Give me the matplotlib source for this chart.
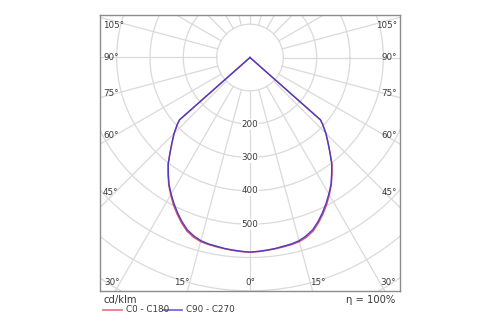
import numpy as np
import matplotlib
matplotlib.use("Agg")
import matplotlib.pyplot as plt
from matplotlib.lines import Line2D

# luminous intensity distribution, cd/klm (zero beyond the cut-off near 50 degrees)
gamma = [0, 2.5, 5, 7.5, 10, 12.5, 15, 17.5, 20, 22.5, 25, 27.5, 30, 32.5, 35,
         37.5, 40, 42.5, 45, 47.5, 48.5, 50, 60, 70, 80, 90]
c0_c180 = [584, 583, 581, 579, 577, 575, 572, 565, 554, 537, 518, 498, 476, 454, 429,
           404, 374, 347, 322, 295, 282, 0, 0, 0, 0, 0]
c90_c270 = [584, 582, 580, 578, 575, 573, 569, 561, 550, 533, 514, 494, 473, 452, 427,
            403, 373, 346, 322, 295, 282, 0, 0, 0, 0, 0]
series_names = ["C0 - C180", "C90 - C270"]
series_colors = ["#e2505e", "#4a3cc6"]

ring_values = [100, 200, 300, 400, 500, 600, 700, 800, 900, 1000]
ring_labels = [200, 300, 400, 500]
side_angles = [45, 60, 75, 90, 105]
bottom_angles = [0, 15, 30]
efficiency = "100%"

grid_col = "#dadada"
text_col = "#3a3a3a"

fig = plt.figure(figsize=(5, 3.25), dpi=100)
ax = fig.add_axes([0.2, 1 - 291 / 325, 0.6, 276 / 325])
ax.set_xlim(-450, 450)
ax.set_ylim(-700.5, 127.5)
ax.set_aspect("equal")
ax.set_xticks([])
ax.set_yticks([])
for s in ax.spines.values():
    s.set_color("#8c8c8c")
    s.set_linewidth(1.0)

# polar grid
t = np.linspace(0, 2 * np.pi, 400)
for r in ring_values:
    ax.plot(r * np.cos(t), r * np.sin(t), color=grid_col, lw=0.9, zorder=1)
for a in range(0, 360, 15):
    ar = np.radians(a)
    ax.plot([100 * np.sin(ar), 1200 * np.sin(ar)],
            [-100 * np.cos(ar), -1200 * np.cos(ar)],
            color=grid_col, lw=0.9, zorder=1)

# curves (left half = mirrored plane, right half = opposite plane)
g = np.radians(gamma)
for vals, col in zip([c0_c180, c90_c270], series_colors):
    I = np.array(vals, dtype=float)
    x = np.concatenate([-(I * np.sin(g))[::-1], (I * np.sin(g))[1:]])
    y = np.concatenate([-(I * np.cos(g))[::-1], -(I * np.cos(g))[1:]])
    ax.plot(x, y, color=col, lw=1.0, zorder=3)

fs = 6.3
for r in ring_labels:
    ax.text(0, -r, str(r), ha="center", va="center", fontsize=fs, color=text_col,
            zorder=4, bbox=dict(facecolor="white", edgecolor="none", pad=0.6))

# angle labels on the sides
xs = 405
for a in side_angles:
    yy = 0 if a == 90 else -xs / np.tan(np.radians(a))
    yy = min(yy, 97)
    ax.text(-441, yy, f"{a}°", ha="left", va="center", fontsize=fs, color=text_col, zorder=4)
    ax.text(441, yy, f"{a}°", ha="right", va="center", fontsize=fs, color=text_col, zorder=4)

yb = -676
for a in bottom_angles:
    xx = -yb * np.tan(np.radians(a))
    if a == 0:
        ax.text(0, yb, "0°", ha="center", va="center", fontsize=fs, color=text_col, zorder=4)
    else:
        ax.text(-xx, yb, f"{a}°", ha="right", va="center", fontsize=fs, color=text_col, zorder=4)
        ax.text(xx, yb, f"{a}°", ha="left", va="center", fontsize=fs, color=text_col, zorder=4)

# footer
fig.text(103 / 500, 1 - 300 / 325, "cd/klm", ha="left", va="center", fontsize=7.2, color=text_col)
fig.text(395 / 500, 1 - 300 / 325, "η = " + efficiency, ha="right", va="center",
         fontsize=7.2, color=text_col)
ly = 1 - 309.5 / 325
lx = [103, 163]
for name, col, x0 in zip(series_names, series_colors, lx):
    fig.add_artist(Line2D([x0 / 500, (x0 + 19) / 500], [ly, ly], color=col, lw=1.3, alpha=0.75))
    fig.text((x0 + 23) / 500, ly, name, ha="left", va="center", fontsize=6.3, color=text_col)

fig.savefig("out.png", dpi=100)
